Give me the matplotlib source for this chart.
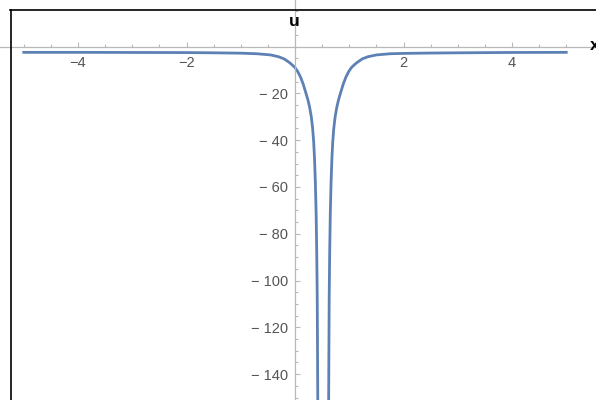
import numpy as np
import matplotlib
matplotlib.use('Agg')
import matplotlib.pyplot as plt
from matplotlib.lines import Line2D
from matplotlib.ticker import MultipleLocator, FixedLocator, FixedFormatter

# values
x = [-5.0, -4.0, -3.0, -2.0, -1.5, -1.0, -0.7, -0.45, -0.3, -0.2, -0.1, -0.05,
     0.0, 0.05, 0.1, 0.15, 0.2, 0.24, 0.27, 0.3, 0.325, 0.345, 0.36, 0.375,
     0.39, 0.40, 0.41, 0.42,
     0.62, 0.63, 0.64, 0.65, 0.665, 0.68, 0.695, 0.715, 0.74, 0.77, 0.80,
     0.84, 0.89, 0.94, 0.99, 1.04, 1.09, 1.14, 1.24, 1.34, 1.5, 1.75, 2.0,
     2.5, 3.0, 4.0, 5.0]
u = [-2.5, -2.5, -2.55, -2.6, -2.7, -2.85, -3.1, -3.6, -4.4, -5.3, -6.9, -7.9,
     -9.0, -10.7, -13.0, -16.0, -19.8, -23.0, -26.0, -30.0, -35, -41, -48, -58,
     -72, -87, -108, -152,
     -152, -108, -87, -72, -58, -48, -41, -35, -30, -26, -23,
     -19.8, -16, -13, -10.7, -9.0, -7.9, -6.9, -5.3, -4.4, -3.6, -3.1, -2.95,
     -2.8, -2.7, -2.55, -2.5]

xticks = [-4, -2, 2, 4]
xlabels = ['\u22124', '\u22122', '2', '4']
yticks = [-140, -120, -100, -80, -60, -40, -20]
ylabels = ['\u2212 %d' % (-v) for v in yticks]

W, H = 596, 400
fig = plt.figure(figsize=(W/100, H/100), dpi=100)
ax = fig.add_axes([0, 0, 1, 1])
ax.patch.set_alpha(0)

# pixel mapping: x0 at 295px, 54.25 px/unit ; u0 at 46.5px, 2.34 px/unit
ax.set_xlim((0-295)/54.25, (W-295)/54.25)
ax.set_ylim(-(H-46.5)/2.34, 46.5/2.34)

ax.plot(x, u, color='#5E81B5', lw=2.0, solid_joinstyle='round')

for s in ['top', 'right']:
    ax.spines[s].set_visible(False)
for s in ['left', 'bottom']:
    ax.spines[s].set_position(('data', 0))
    ax.spines[s].set_color('#b8b8b8')
    ax.spines[s].set_linewidth(0.9)

ax.xaxis.set_major_locator(FixedLocator(xticks))
ax.xaxis.set_major_formatter(FixedFormatter(xlabels))
ax.xaxis.set_minor_locator(MultipleLocator(0.5))
ax.yaxis.set_major_locator(FixedLocator(yticks))
ax.yaxis.set_major_formatter(FixedFormatter(ylabels))
ax.yaxis.set_minor_locator(MultipleLocator(5))

ax.tick_params(which='both', direction='in', color='#b8b8b8', width=0.8,
               labelcolor='#555555', labelsize=10.5)
ax.tick_params(which='major', length=3.5)
ax.tick_params(which='minor', length=2)
ax.tick_params(axis='x', pad=7)
ax.tick_params(axis='y', pad=5)
for t in ax.get_xticklabels() + ax.get_yticklabels():
    t.set_fontfamily('Liberation Sans')

fig.text(294/W, 1-21/H, 'u', ha='center', va='center', fontsize=12.5,
         fontweight='bold', family='Liberation Sans')
fig.text(590/W, 1-46/H, 'x', ha='left', va='center', fontsize=12.5,
         fontweight='bold', family='Liberation Sans')

# frame lines at top and left
fig.add_artist(Line2D([10/W, 1], [1-9.5/H, 1-9.5/H], color='black', lw=1.2,
                      transform=fig.transFigure))
fig.add_artist(Line2D([10.5/W, 10.5/W], [0, 1-9.5/H], color='black', lw=1.2,
                      transform=fig.transFigure))

fig.savefig('out.png', dpi=100)
